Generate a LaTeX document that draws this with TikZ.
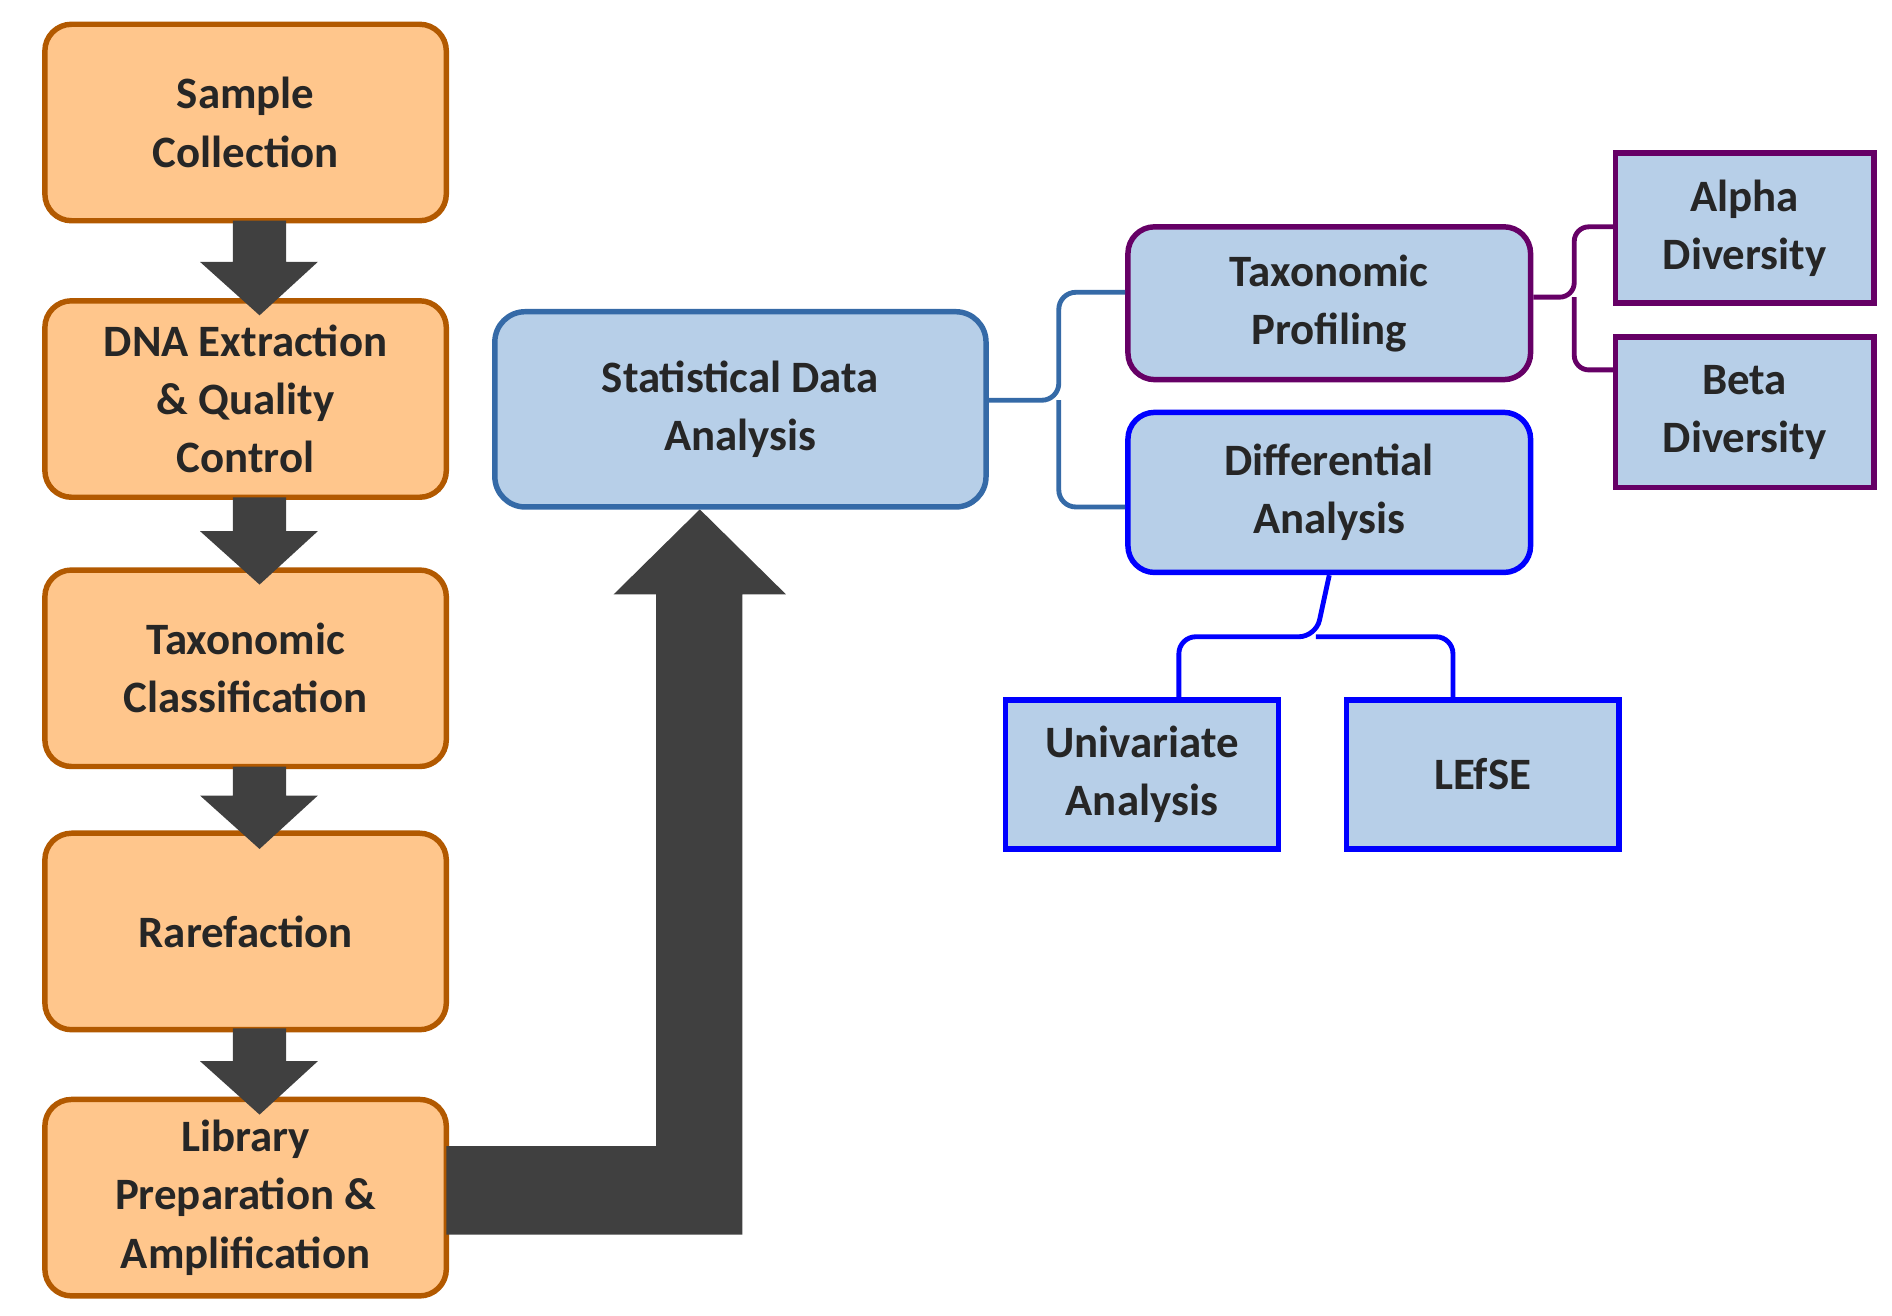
\documentclass[tikz,border=0pt]{standalone}
\usepackage{fontspec}
\setmainfont{Carlito}
\begin{document}
\begin{tikzpicture}[x=1pt,y=-1pt,
  base/.style={draw,line width=4.5pt,fill=blue!8!cyan!20!gray!30,align=center,inner sep=0pt,
    font=\fontsize{37}{48}\selectfont\bfseries,text=black!85},
  orange/.style={base,rounded corners=22pt,fill=orange!45!white,draw=orange!70!black,minimum width=331pt,minimum height=162pt},
  lb/.style={base,fill=cyan!10!blue!25!white},
  arr/.style={fill=black!75,draw=none}]
\useasboundingbox (0,0) rectangle (1560,1085);
\definecolor{lbf}{RGB}{183,207,232}
\tikzset{lb/.style={base,fill=lbf}}
\node[orange] (s1) at (202.5,101) {Sample\\Collection};
\node[orange] (s2) at (202.5,329) {DNA Extraction\\\& Quality\\Control};
\node[orange] (s3) at (202.5,551) {Taxonomic\\Classification};
\node[orange] (s4) at (202.5,768) {Rarefaction};
\node[orange] (s5) at (202.5,987.5) {Library\\Preparation \&\\Amplification};
% down arrows
\foreach \a/\b in {182/248,410/470,632/688,848/907}{
  \fill[arr] (192,\a) -- (236,\a) -- (236,\b-32) -- (262,\b-32) -- (214,\b+12) -- (165,\b-32) -- (192,\b-32) -- cycle;}
% big arrow
\fill[arr] (368,945) -- (541,945) -- (541,490) -- (506,490) -- (577,420) -- (648,490) -- (612,490) -- (612,1018) -- (368,1018) -- cycle;
\node[lb,draw=cyan!50!blue!80!black,rounded corners=25pt,minimum width=405pt,minimum height=161pt] (sda) at (610.5,337.5) {Statistical Data\\Analysis};
\node[lb,draw=violet!80!black,rounded corners=22pt,minimum width=332pt,minimum height=126pt] (tp) at (1096,250) {Taxonomic\\Profiling};
\node[lb,draw=blue,rounded corners=22pt,minimum width=332pt,minimum height=132pt] (da) at (1096,406) {Differential\\Analysis};
\node[lb,draw=violet!80!black,minimum width=213pt,minimum height=124pt] (al) at (1438.5,188) {Alpha\\Diversity};
\node[lb,draw=violet!80!black,minimum width=213pt,minimum height=124pt] (be) at (1438.5,340) {Beta\\Diversity};
\node[lb,draw=blue,minimum width=225pt,minimum height=123pt] (uv) at (941.5,638.5) {Univariate\\Analysis};
\node[lb,draw=blue,minimum width=225pt,minimum height=123pt] (lf) at (1222.5,638.5) {LEfSE};
\draw[line width=4pt,draw=cyan!50!blue!80!black,rounded corners=14pt]
  (sda.east|-0,330) -- (873,330) -- (873,241) -- (tp.west|-0,241);
\draw[line width=4pt,draw=cyan!50!blue!80!black,rounded corners=14pt]
  (873,330) -- (873,418) -- (da.west|-0,418);
\draw[line width=4pt,draw=violet!80!black,rounded corners=12pt]
  (tp.east|-0,245) -- (1298,245) -- (1298,187) -- (al.west|-0,187);
\draw[line width=4pt,draw=violet!80!black,rounded corners=12pt]
  (1298,245) -- (1298,305) -- (be.west|-0,305);
\draw[line width=4pt,draw=blue,rounded corners=14pt]
  (da.south) -- (1085,525) -- (972,525) -- (uv.north-|972,0);
\draw[line width=4pt,draw=blue,rounded corners=14pt]
  (1085,525) -- (1198,525) -- (lf.north-|1198,0);
\end{tikzpicture}
\end{document}
